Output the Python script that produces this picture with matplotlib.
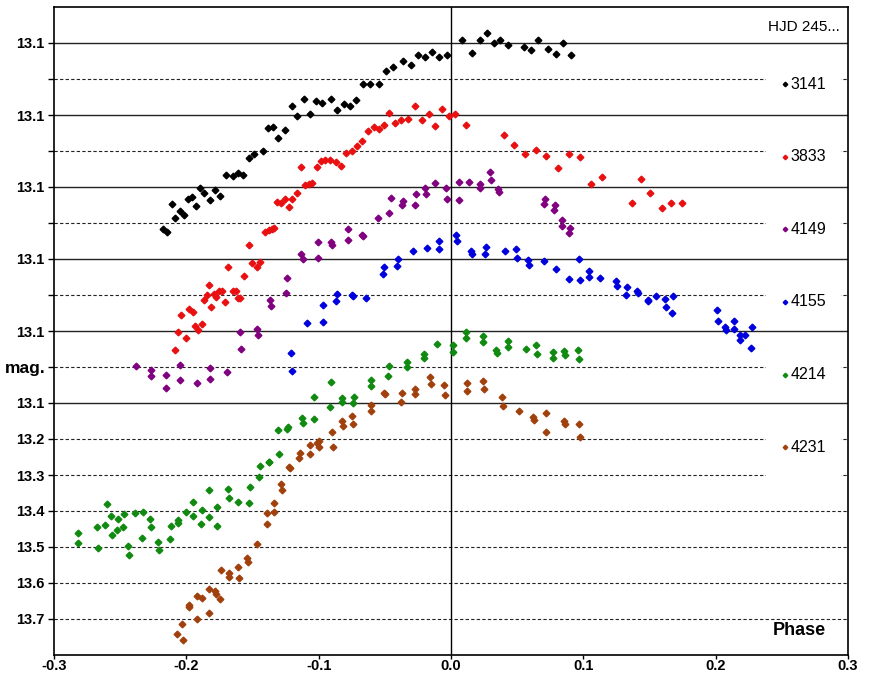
import matplotlib
matplotlib.use("Agg")
import matplotlib.pyplot as plt
from matplotlib.patches import Rectangle

plt.rcParams['font.family'] = ['Liberation Sans', 'DejaVu Sans']

# (phase, magnitude) pairs for each night, HJD 245....
hjd_3141 = [(-0.2175, 12.616), (-0.2145, 12.624), (-0.2112, 12.548), (-0.2085, 12.587), (-0.2051, 12.566),
            (-0.2021, 12.579), (-0.1989, 12.533), (-0.1958, 12.529), (-0.1926, 12.553), (-0.1896, 12.502),
            (-0.1863, 12.516), (-0.1823, 12.535), (-0.1787, 12.507), (-0.1747, 12.526), (-0.1704, 12.466),
            (-0.1649, 12.469), (-0.1609, 12.461), (-0.1573, 12.468), (-0.1530, 12.419), (-0.1490, 12.409),
            (-0.1420, 12.399), (-0.1382, 12.335), (-0.1344, 12.333), (-0.1304, 12.365), (-0.1254, 12.342),
            (-0.1205, 12.276), (-0.1163, 12.302), (-0.1113, 12.255), (-0.1067, 12.297), (-0.1020, 12.261),
            (-0.0977, 12.267), (-0.0906, 12.256), (-0.0858, 12.286), (-0.0810, 12.269), (-0.0767, 12.276),
            (-0.0720, 12.258), (-0.0665, 12.213), (-0.0609, 12.215), (-0.0546, 12.213), (-0.0491, 12.179),
            (-0.0435, 12.167), (-0.0360, 12.149), (-0.0304, 12.162), (-0.0249, 12.134), (-0.0199, 12.139),
            (-0.0144, 12.124), (-0.0091, 12.139), (-0.0027, 12.134), (0.0083, 12.093), (0.0159, 12.128),
            (0.0217, 12.091), (0.0272, 12.073), (0.0328, 12.101), (0.0373, 12.093), (0.0428, 12.105),
            (0.0549, 12.111), (0.0604, 12.119), (0.0660, 12.093), (0.0733, 12.116), (0.0791, 12.130),
            (0.0849, 12.101), (0.0904, 12.134)]

hjd_3833 = [(-0.2089, 12.953), (-0.2062, 12.902), (-0.2042, 12.856), (-0.2004, 12.919), (-0.1979, 12.838),
            (-0.1951, 12.847), (-0.1931, 12.886), (-0.1911, 12.898), (-0.1885, 12.881), (-0.1868, 12.813),
            (-0.1845, 12.801), (-0.1830, 12.772), (-0.1815, 12.833), (-0.1792, 12.798), (-0.1775, 12.805),
            (-0.1755, 12.790), (-0.1732, 12.790), (-0.1709, 12.820), (-0.1687, 12.723), (-0.1649, 12.790),
            (-0.1624, 12.788), (-0.1611, 12.807), (-0.1591, 12.807), (-0.1563, 12.748), (-0.1530, 12.660),
            (-0.1503, 12.710), (-0.1465, 12.721), (-0.1440, 12.707), (-0.1402, 12.626), (-0.1377, 12.620),
            (-0.1352, 12.616), (-0.1334, 12.613), (-0.1316, 12.542), (-0.1284, 12.545), (-0.1251, 12.533),
            (-0.1226, 12.555), (-0.1198, 12.533), (-0.1165, 12.518), (-0.1130, 12.444), (-0.1100, 12.494),
            (-0.1073, 12.491), (-0.1047, 12.490), (-0.1011, 12.444), (-0.0982, 12.429), (-0.0949, 12.424),
            (-0.0911, 12.426), (-0.0871, 12.430), (-0.0831, 12.442), (-0.0790, 12.405), (-0.0748, 12.401),
            (-0.0712, 12.387), (-0.0672, 12.373), (-0.0629, 12.345), (-0.0584, 12.333), (-0.0546, 12.338),
            (-0.0506, 12.327), (-0.0465, 12.294), (-0.0420, 12.322), (-0.0375, 12.314), (-0.0327, 12.312),
            (-0.0269, 12.276), (-0.0221, 12.314), (-0.0166, 12.297), (-0.0118, 12.330), (-0.0068, 12.284),
            (-0.0012, 12.302), (0.0033, 12.297), (0.0111, 12.327), (0.0403, 12.355), (0.0479, 12.383),
            (0.0562, 12.408), (0.0642, 12.398), (0.0721, 12.413), (0.0811, 12.446), (0.0894, 12.407),
            (0.0976, 12.416), (0.1059, 12.491), (0.1144, 12.471), (0.1365, 12.545), (0.1433, 12.479),
            (0.1503, 12.517), (0.1594, 12.558), (0.1665, 12.545), (0.1748, 12.545)]

hjd_4149 = [(-0.2384, 12.998), (-0.2268, 13.009), (-0.2268, 13.026), (-0.2155, 13.023), (-0.2150, 13.057),
            (-0.2047, 12.994), (-0.2049, 13.037), (-0.1918, 13.044), (-0.1820, 13.003), (-0.1820, 13.032),
            (-0.1689, 13.014), (-0.1594, 12.902), (-0.1588, 12.950), (-0.1468, 12.895), (-0.1460, 12.912),
            (-0.1364, 12.814), (-0.1360, 12.831), (-0.1243, 12.752), (-0.1246, 12.795), (-0.1130, 12.687),
            (-0.1122, 12.701), (-0.1007, 12.653), (-0.1007, 12.698), (-0.0909, 12.652), (-0.0903, 12.660),
            (-0.0782, 12.617), (-0.0782, 12.648), (-0.0669, 12.632), (-0.0665, 12.637), (-0.0551, 12.586),
            (-0.0465, 12.571), (-0.0453, 12.530), (-0.0372, 12.551), (-0.0365, 12.540), (-0.0269, 12.551),
            (-0.0261, 12.519), (-0.0193, 12.504), (-0.0186, 12.519), (-0.0121, 12.490), (-0.0035, 12.504),
            (-0.0027, 12.533), (0.0058, 12.536), (0.0063, 12.485), (0.0136, 12.486), (0.0219, 12.493),
            (0.0219, 12.502), (0.0292, 12.459), (0.0300, 12.481), (0.0353, 12.506), (0.0363, 12.514),
            (0.0702, 12.546), (0.0710, 12.533), (0.0778, 12.563), (0.0785, 12.551), (0.0838, 12.592),
            (0.0838, 12.608), (0.0902, 12.615), (0.0894, 12.627)]

hjd_4155 = [(-0.1208, 12.960), (-0.1205, 13.012), (-0.1091, 12.879), (-0.0969, 12.874), (-0.0964, 12.828),
            (-0.0866, 12.816), (-0.0858, 12.797), (-0.0748, 12.799), (-0.0740, 12.804), (-0.0639, 12.808),
            (-0.0511, 12.742), (-0.0503, 12.721), (-0.0410, 12.719), (-0.0400, 12.701), (-0.0287, 12.678),
            (-0.0184, 12.669), (-0.0093, 12.673), (-0.0088, 12.649), (0.0035, 12.633), (0.0043, 12.651),
            (0.0154, 12.678), (0.0156, 12.685), (0.0260, 12.685), (0.0264, 12.666), (0.0411, 12.678),
            (0.0494, 12.673), (0.0498, 12.698), (0.0582, 12.703), (0.0589, 12.717), (0.0705, 12.706),
            (0.0793, 12.727), (0.0891, 12.756), (0.0965, 12.700), (0.0972, 12.759), (0.1040, 12.734),
            (0.1045, 12.749), (0.1123, 12.754), (0.1246, 12.762), (0.1254, 12.775), (0.1332, 12.777),
            (0.1325, 12.800), (0.1405, 12.789), (0.1415, 12.795), (0.1486, 12.813), (0.1491, 12.818),
            (0.1548, 12.803), (0.1614, 12.812), (0.1624, 12.833), (0.1672, 12.849), (0.1680, 12.803),
            (0.2009, 12.843), (0.2017, 12.873), (0.2069, 12.888), (0.2077, 12.896), (0.2135, 12.873),
            (0.2135, 12.895), (0.2181, 12.910), (0.2186, 12.925), (0.2218, 12.912), (0.2266, 12.947),
            (0.2273, 12.889)]

hjd_4214 = [(-0.2817, 13.461), (-0.2817, 13.488), (-0.2674, 13.444), (-0.2666, 13.504), (-0.2613, 13.438),
            (-0.2603, 13.380), (-0.2568, 13.415), (-0.2563, 13.467), (-0.2515, 13.422), (-0.2523, 13.453),
            (-0.2480, 13.444), (-0.2472, 13.409), (-0.2440, 13.497), (-0.2432, 13.522), (-0.2389, 13.405),
            (-0.2334, 13.474), (-0.2326, 13.402), (-0.2278, 13.423), (-0.2270, 13.444), (-0.2215, 13.485),
            (-0.2208, 13.507), (-0.2125, 13.478), (-0.2119, 13.441), (-0.2064, 13.425), (-0.2062, 13.434),
            (-0.2006, 13.402), (-0.1951, 13.376), (-0.1946, 13.415), (-0.1888, 13.436), (-0.1881, 13.397),
            (-0.1832, 13.341), (-0.1825, 13.418), (-0.1772, 13.388), (-0.1770, 13.443), (-0.1684, 13.339),
            (-0.1681, 13.364), (-0.1609, 13.375), (-0.1523, 13.377), (-0.1518, 13.334), (-0.1450, 13.306),
            (-0.1443, 13.276), (-0.1379, 13.264), (-0.1372, 13.265), (-0.1296, 13.243), (-0.1304, 13.176),
            (-0.1236, 13.172), (-0.1231, 13.166), (-0.1125, 13.143), (-0.1120, 13.156), (-0.1033, 13.145),
            (-0.1033, 13.082), (-0.0909, 13.041), (-0.0914, 13.111), (-0.0826, 13.087), (-0.0826, 13.097),
            (-0.0742, 13.100), (-0.0733, 13.082), (-0.0604, 13.036), (-0.0604, 13.052), (-0.0468, 12.998),
            (-0.0473, 13.026), (-0.0335, 12.985), (-0.0332, 12.999), (-0.0204, 12.965), (-0.0201, 12.975),
            (-0.0103, 12.936), (0.0013, 12.940), (0.0015, 12.958), (0.0116, 12.904), (0.0113, 12.919),
            (0.0245, 12.915), (0.0242, 12.930), (0.0343, 12.953), (0.0345, 12.960), (0.0428, 12.927),
            (0.0431, 12.945), (0.0564, 12.951), (0.0645, 12.940), (0.0650, 12.965), (0.0770, 12.959),
            (0.0770, 12.974), (0.0856, 12.955), (0.0861, 12.968), (0.0959, 12.953), (0.0965, 12.978)]

hjd_4231 = [(-0.2074, 13.741), (-0.2032, 13.715), (-0.2024, 13.758), (-0.1983, 13.660), (-0.1981, 13.667),
            (-0.1923, 13.701), (-0.1918, 13.636), (-0.1878, 13.642), (-0.1832, 13.682), (-0.1828, 13.616),
            (-0.1785, 13.622), (-0.1779, 13.630), (-0.1745, 13.644), (-0.1739, 13.565), (-0.1681, 13.571),
            (-0.1679, 13.583), (-0.1609, 13.555), (-0.1601, 13.586), (-0.1541, 13.530), (-0.1536, 13.543),
            (-0.1469, 13.493), (-0.1394, 13.405), (-0.1390, 13.435), (-0.1339, 13.379), (-0.1337, 13.403),
            (-0.1281, 13.325), (-0.1276, 13.341), (-0.1226, 13.277), (-0.1216, 13.281), (-0.1150, 13.253),
            (-0.1143, 13.240), (-0.1069, 13.242), (-0.1067, 13.218), (-0.1014, 13.211), (-0.0999, 13.205),
            (-0.0994, 13.222), (-0.0894, 13.222), (-0.0903, 13.181), (-0.0823, 13.150), (-0.0816, 13.163),
            (-0.0748, 13.136), (-0.0742, 13.158), (-0.0601, 13.105), (-0.0601, 13.123), (-0.0506, 13.071),
            (-0.0498, 13.076), (-0.0370, 13.073), (-0.0375, 13.098), (-0.0274, 13.060), (-0.0269, 13.075),
            (-0.0159, 13.028), (-0.0153, 13.046), (-0.0055, 13.050), (-0.0048, 13.079), (0.0124, 13.045),
            (0.0124, 13.067), (0.0239, 13.039), (0.0247, 13.060), (0.0388, 13.082), (0.0396, 13.108),
            (0.0511, 13.123), (0.0617, 13.140), (0.0625, 13.148), (0.0721, 13.127), (0.0721, 13.180),
            (0.0851, 13.149), (0.0859, 13.158), (0.0970, 13.159), (0.0972, 13.195)]

series_labels = ["3141", "3833", "4149", "4155", "4214", "4231"]
series_colors = ["#000000", "#e81010", "#800080", "#0000dd", "#108a10", "#a0400c"]
series_data = [hjd_3141, hjd_3833, hjd_4149, hjd_4155, hjd_4214, hjd_4231]

x_ticks = [-0.3, -0.2, -0.1, 0.0, 0.1, 0.2, 0.3]
x_tick_labels = ["-0.3", "-0.2", "-0.1", "0.0", "0.1", "0.2", "0.3"]
y_ticks = [12.1, 12.2, 12.3, 12.4, 12.5, 12.6, 12.7, 12.8, 12.9, 13.0,
           13.1, 13.2, 13.3, 13.4, 13.5, 13.6, 13.7]
y_tick_labels = ["13.1", "", "13.1", "", "13.1", "", "13.1", "", "13.1", "",
                 "13.1", "13.2", "13.3", "13.4", "13.5", "13.6", "13.7"]
solid_levels = [12.1, 12.3, 12.5, 12.7, 12.9, 13.1]
dashed_levels = [12.2, 12.4, 12.6, 12.8, 13.0, 13.2, 13.3, 13.4, 13.5, 13.6, 13.7]

fig = plt.figure(figsize=(8.69, 6.77), dpi=100)
ax = fig.add_axes([54 / 869, 1 - 655 / 677, (848 - 54) / 869, (655 - 7) / 677])
ax.set_xlim(-0.3, 0.3)
ax.set_ylim(13.8, 12.0)

# grid: dashed minor levels, white legend panel, solid major levels
for y in dashed_levels:
    ax.axhline(y, color="#222222", lw=0.8, ls=(0, (3, 2)), zorder=1)
ax.add_patch(Rectangle((0.2377, 12.15), 0.295 - 0.2377, 13.35 - 12.15,
                       facecolor="white", edgecolor="none", zorder=1.5))
for y in solid_levels:
    ax.axhline(y, color="#222222", lw=1.0, zorder=2)
ax.axvline(0.0, color="black", lw=1.0, zorder=2)

for pts, col in zip(series_data, series_colors):
    xs = [p[0] for p in pts]
    ys = [p[1] for p in pts]
    ax.plot(xs, ys, ls="none", marker="D", ms=3.4, color=col, mec=col, zorder=3)

# legend column on the right
ax.text(0.2392, 12.055, "HJD 245...", fontsize=11, ha="left", va="center", zorder=4)
for i, (lab, col) in enumerate(zip(series_labels, series_colors)):
    yy = 12.214 + i * 0.2018
    ax.plot([0.2527], [yy], ls="none", marker="D", ms=2.3, color=col, zorder=4)
    ax.text(0.2565, yy, lab, fontsize=11.5, ha="left", va="center", zorder=4)

ax.text(0.2430, 13.732, "Phase", fontsize=13, fontweight="bold", ha="left", va="center", zorder=4)
fig.text(5 / 869, 1 - 368 / 677, "mag.", fontsize=12.5, fontweight="bold", ha="left", va="center")

ax.set_xticks(x_ticks)
ax.set_xticklabels(x_tick_labels)
ax.set_yticks(y_ticks)
ax.set_yticklabels(y_tick_labels)
ax.tick_params(axis="both", direction="out", width=1, labelsize=10.5, color="black")
ax.tick_params(axis="y", length=4, pad=3)
ax.tick_params(axis="x", length=3, pad=0)
for lbl in ax.get_xticklabels() + ax.get_yticklabels():
    lbl.set_fontweight("bold")

for s in ax.spines.values():
    s.set_color("black")
    s.set_linewidth(1.2)
    s.set_zorder(5)

fig.savefig("out.png", dpi=100, facecolor="white")
